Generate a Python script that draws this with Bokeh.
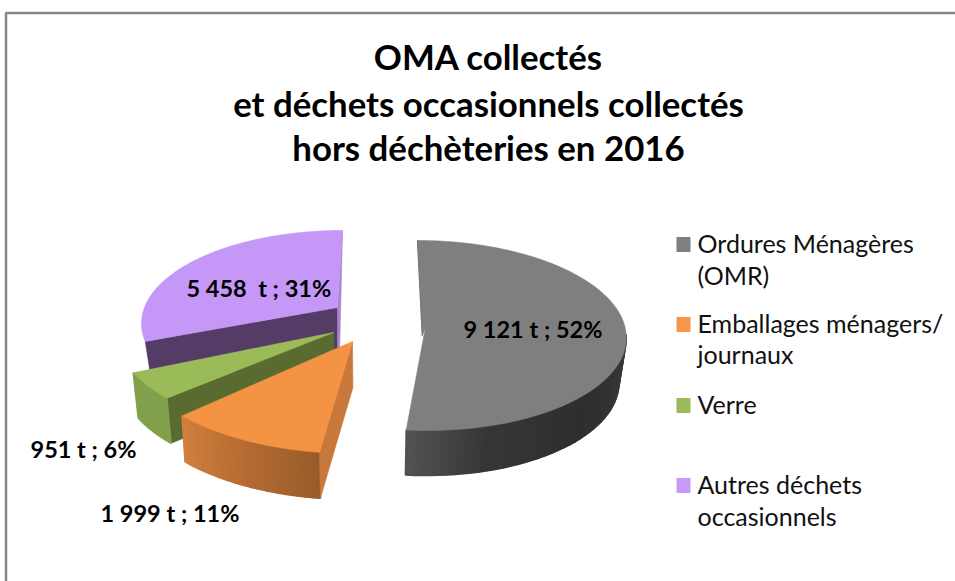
import numpy as np
from bokeh.plotting import figure
from bokeh.models import Range1d
from bokeh.core.properties import value
from bokeh.embed import file_html
from bokeh.resources import INLINE

# ---- data
categories = ["Ordures Ménagères (OMR)", "Emballages ménagers/ journaux", "Verre", "Autres déchets occasionnels"]
tonnes = [9121, 1999, 951, 5458]
data_labels = ["9 121 t ; 52%", "1 999 t ; 11%", "951 t ; 6%", "5 458\u00a0 t ; 31%"]
legend_lines = [["Ordures Ménagères", "(OMR)"], ["Emballages ménagers/", "journaux"], ["Verre"], ["Autres déchets", "occasionnels"]]
title_lines = ["OMA collectés", "et déchets occasionnels collectés", "hors déchèteries en 2016"]

FONT = "Lato"
W, H = 955, 581
p = figure(width=W, height=H, output_backend="svg", toolbar_location=None,
           x_range=Range1d(0, W), y_range=Range1d(H, 0), min_border=0,
           margin=(0, 0, 0, 0), outline_line_color=None,
           background_fill_color="white", border_fill_color="white")
p.axis.visible = False
p.grid.visible = False

# angles (clockwise from 12 o'clock) come from the values
fr = np.array(tonnes, float) / sum(tonnes)
edges = np.concatenate([[0], np.cumsum(fr)]) * 2 * np.pi

# per-slice projection: apex (ax, ay), rim-ellipse centre (cx, cy), radii, depth, skew,
# apparent-angle correction at both ends of the slice (perspective), bottom-face scale
GEOM = [
    dict(ax=421.7, ay=335, cx=421.7, cy=335, rx=204, ry=95, d=45, sk=0.05, da0=0, da1=-1.5, sc=0.97),
    dict(ax=352, ay=341, cx=352, cy=341, rx=228, ry=112, d=46, sk=0.0, da0=1, da1=0, sc=0.985),
    dict(ax=333, ay=332, cx=333, cy=332, rx=218, ry=102, d=45, sk=0.0, da0=1.5, da1=-1.2, sc=0.98),
    dict(ax=337, ay=307, cx=342, cy=323, rx=201, ry=93, d=45, sk=0.0, da0=11, da1=0, sc=0.97),
]
VX = 380.0


def warp(i, a):
    g = GEOM[i]
    a0, a1 = edges[i], edges[i + 1]
    return a + np.radians(g["da0"]) * (a1 - a) / (a1 - a0) + np.radians(g["da1"]) * (a - a0) / (a1 - a0)


def rim(i, a):
    g = GEOM[i]
    b = warp(i, a)
    y = g["cy"] - g["ry"] * np.cos(b)
    x = g["cx"] + g["rx"] * np.sin(b) + g["sk"] * (y - g["cy"])
    return x, y


def low(x, y, g):
    return x + (VX - x) * (1 - g["sc"]), y + g["d"]


def poly(xs, ys, color, lw=0.6):
    p.patch(list(xs), list(ys), fill_color=color, line_color=color, line_width=lw)


def lerp_colors(stops, t):
    pos = [s[0] for s in stops]
    rgb = [np.interp(t, pos, [s[1][i] for s in stops]) for i in range(3)]
    return "#%02x%02x%02x" % tuple(int(round(c)) for c in rgb)


def outer_wall(i, stops, a0=None, a1=None):
    g = GEOM[i]
    a0 = edges[i] if a0 is None else a0
    a1 = edges[i + 1] if a1 is None else a1
    n = 40
    aa = np.linspace(a0, a1, n + 1)
    for k in range(n):
        x1, y1 = rim(i, aa[k])
        x2, y2 = rim(i, aa[k + 1])
        bx1, by1 = low(x1, y1, g)
        bx2, by2 = low(x2, y2, g)
        poly([x1, x2, bx2, bx1], [y1, y2, by2, by1], lerp_colors(stops, k / n), lw=1.6)


def top_face(i, color, apex=None):
    g = GEOM[i]
    aa = np.linspace(edges[i], edges[i + 1], 120)
    x, y = rim(i, aa)
    xs = [g["ax"]] + list(x)
    ys = [g["ay"]] + list(y)
    if apex is not None:
        xs = [apex[0]] + xs
        ys = [apex[1]] + ys
    poly(xs, ys, color)


def side_wall(i, a, color):
    g = GEOM[i]
    rx, ry = rim(i, a)
    ax, ay = g["ax"], g["ay"]
    bx, by = low(rx, ry, g)
    cx, cy = low(ax, ay, g)
    poly([ax, rx, bx, cx], [ay, ry, by, cy], color)


# Autres (back)
g3 = GEOM[3]
side_wall(3, edges[3], "#553c66")
rx3, ry3 = rim(3, edges[4])
poly([g3["ax"], rx3, g3["ax"] + 2.2, g3["ax"]], [g3["ay"], ry3, g3["ay"] + 40, g3["ay"] + 40], "#a884d0")
top_face(3, "#c597f7")

# Verre
side_wall(2, edges[2], "#5a6b30")
outer_wall(2, [(0, (131, 160, 77)), (1, (131, 160, 77))])
top_face(2, "#9bbb59")

# Emballages
outer_wall(1, [(0, (152, 92, 42)), (0.5, (182, 108, 50)), (1, (209, 128, 63))])
side_wall(1, edges[1], "#c8783a")
top_face(1, "#f39343")

# Ordures
g0 = GEOM[0]
outer_wall(0, [(0, (58, 58, 58)), (0.4, (46, 46, 46)), (0.75, (54, 54, 54)), (1, (84, 84, 84))],
           a0=np.pi * 0.5)
sx, sy = rim(0, edges[0])
poly([sx, g0["ax"], g0["ax"] + 4], [sy, g0["ay"], g0["ay"] - 12], "#333333")
top_face(0, "#7f7f7f", apex=(g0["ax"] + 4, g0["ay"] - 12))

# frame of the chart area
p.line([5.5, 5.5, W], [H, 12.5, 12.5], line_color="#868686", line_width=2.5)

# title
p.text([488.0] * 3, [56, 103, 147], text=title_lines, text_font=value(FONT), text_font_style="bold",
       text_font_size="34.8px", text_align="center", text_baseline="middle", text_color="#000000")

# data labels
p.text([463, 100, 30, 186], [328, 512, 448, 287], text=data_labels, text_font=value(FONT),
       text_font_style="bold", text_font_size="23.5px", text_align="left", text_baseline="middle",
       text_color="#000000")

# legend
LEG_COLORS = ["#7f7f7f", "#f79646", "#9bbb59", "#c79af7"]
SWATCH_Y = [244, 324, 405, 485]
LINE_Y = [[242, 274], [322, 353], [403], [483, 515]]
p.rect([683] * 4, SWATCH_Y, width=14, height=15, fill_color=LEG_COLORS, line_color=None)
for lines, ys in zip(legend_lines, LINE_Y):
    p.text([697] * len(lines), ys, text=lines, text_font=value(FONT), text_font_size="25px",
           text_align="left", text_baseline="middle", text_color="#111111")

open("out.html", "w").write(file_html(p, INLINE))
